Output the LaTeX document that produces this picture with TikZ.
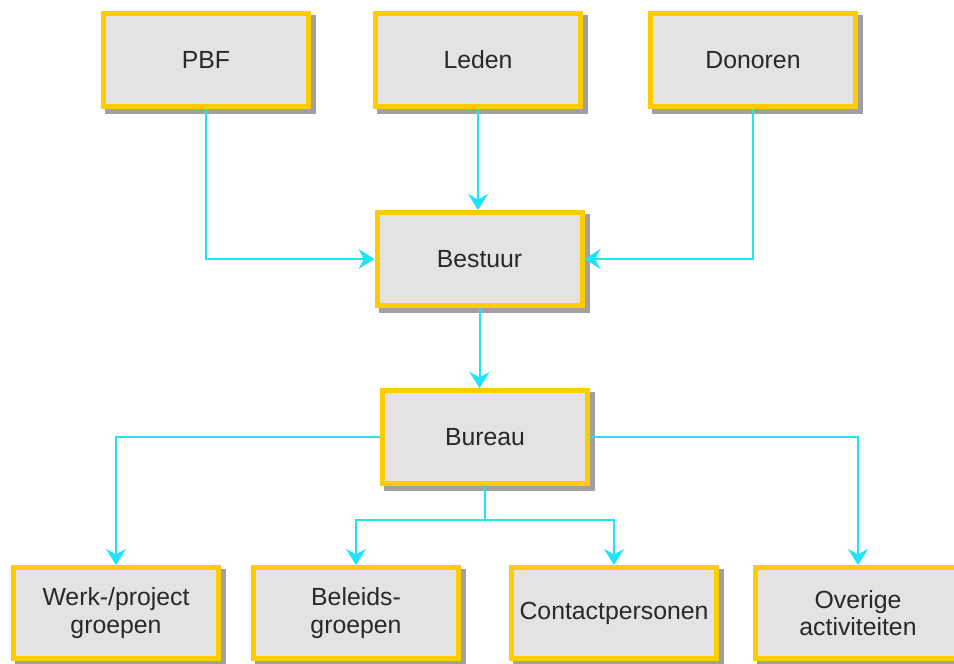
\documentclass[tikz,border=0pt]{standalone}
\usepackage{fontspec}
\setmainfont{Liberation Sans}
\usetikzlibrary{arrows.meta,calc,backgrounds}

\definecolor{boxyellow}{RGB}{255,204,0}
\definecolor{boxfill}{RGB}{228,226,226}
\definecolor{boxshadow}{RGB}{160,160,160}
\definecolor{linkcyan}{RGB}{30,228,250}
\definecolor{textgray}{RGB}{40,40,40}

\tikzset{
  orgbox/.style={draw=boxyellow, fill=boxfill, line width=3.75pt,
    minimum width={205*0.75pt}, minimum height={93*0.75pt},
    inner sep=0pt, align=center, text=textgray,
    font=\fontsize{18.6}{20.5}\selectfont},
  lowbox/.style={orgbox, minimum height={91*0.75pt}},
  link/.style={draw=linkcyan, line width=1.5pt,
    -{Stealth[length=12pt, width=15pt, inset=4pt]}},
  plainlink/.style={draw=linkcyan, line width=1.5pt},
  shadowfill/.style={fill=boxshadow}
}

\begin{document}
\begin{tikzpicture}[x=0.75pt, y=-0.75pt]
  \useasboundingbox (0,0) rectangle (954,664);

  % top row
  \node[orgbox] (pbf)     at (206,60)    {PBF};
  \node[orgbox] (leden)   at (478,60)    {Leden};
  \node[orgbox] (donoren) at (753,60)    {Donoren};
  % board and office
  \node[orgbox] (bestuur) at (479.5,259) {Bestuur};
  \node[orgbox] (bureau)  at (485,437)   {Bureau};
  % bottom row
  \node[lowbox] (werk)    at (116,613)   {Werk-/project\\groepen};
  \node[lowbox] (beleid)  at (356,613)   {Beleids-\\groepen};
  \node[lowbox] (contact) at (614,613)   {Contactpersonen};
  \node[lowbox] (overig)  at (858,613)   {Overige\\activiteiten};

  % drop shadows behind every box
  \begin{scope}[on background layer]
    \foreach \n in {pbf,leden,donoren,bestuur,bureau,werk,beleid,contact,overig}{
      \fill[shadowfill] ($(\n.south west)+(4,5)$) rectangle ($(\n.north east)+(5,4)$);
    }
  \end{scope}

  % connectors into the board
  \draw[link] (pbf.south) |- (bestuur.west);
  \draw[link] (leden.south) -- (leden.south |- bestuur.north);
  \draw[link] (donoren.south) |- (bestuur.east);
  % board to office
  \draw[link] (bestuur.south) -- (bestuur.south |- bureau.north);
  % office to the groups
  \draw[link] (bureau.west) -| (werk.north);
  \draw[link] (bureau.east) -| (overig.north);
  \coordinate (split) at ($(bureau.south)+(0,34)$);
  \draw[plainlink] (bureau.south) -- (split);
  \draw[link] (split) -| (beleid.north);
  \draw[link] (split) -| (contact.north);
\end{tikzpicture}
\end{document}
